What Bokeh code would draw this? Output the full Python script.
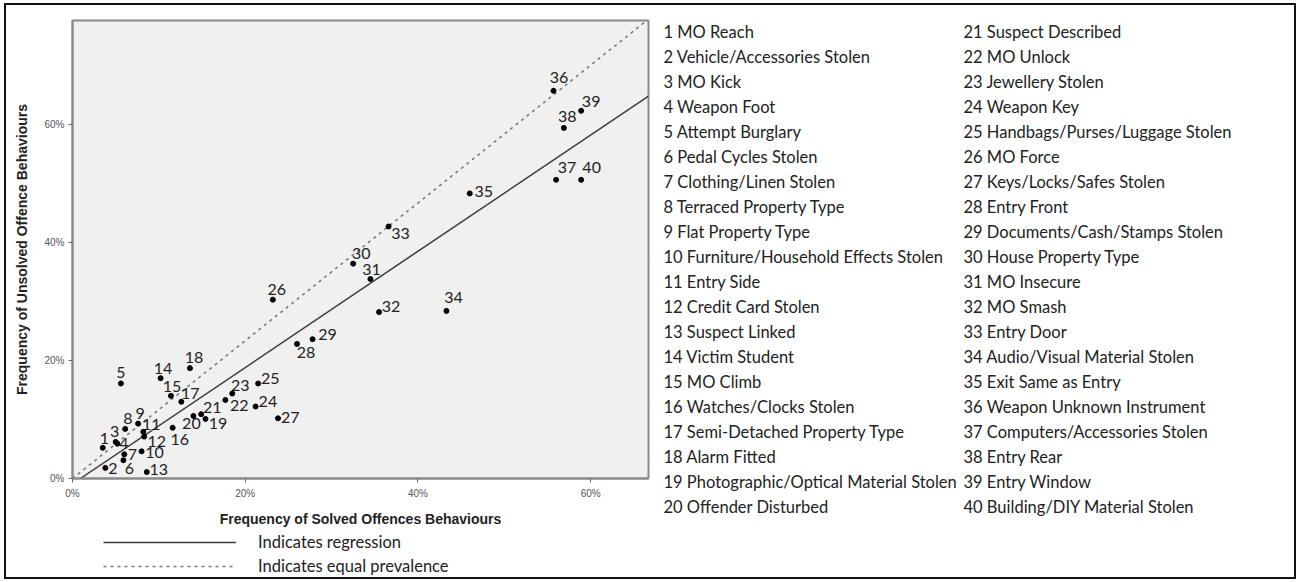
from bokeh.plotting import figure
from bokeh.models import (ColumnDataSource, FixedTicker, Range1d, Legend, LegendItem)
from bokeh.layouts import row, column
from bokeh.core.properties import value
from bokeh.embed import file_html
from bokeh.resources import INLINE

# ---------------- data (percent) ----------------
ids = list(range(1, 41))
solved = [3.5, 3.8, 5.0, 5.2, 5.6, 5.9, 6.0, 6.1, 7.6, 8.0,
          8.2, 8.3, 8.6, 10.2, 11.4, 11.6, 12.6, 13.6, 15.4, 14.0,
          14.9, 17.7, 18.5, 21.2, 21.5, 23.2, 23.8, 26.0, 27.8, 32.5,
          34.5, 35.5, 36.6, 43.3, 46.0, 55.7, 56.0, 56.9, 58.9, 58.9]
unsolved = [5.2, 1.8, 6.2, 5.9, 16.1, 3.1, 4.1, 8.4, 9.3, 4.6,
            7.9, 7.1, 1.1, 17.0, 14.0, 8.6, 13.0, 18.7, 10.1, 10.6,
            10.9, 13.3, 14.4, 12.2, 16.1, 30.3, 10.2, 22.8, 23.6, 36.4,
            33.8, 28.2, 42.7, 28.4, 48.3, 65.7, 50.6, 59.4, 62.3, 50.6]
behaviours = ["MO Reach", "Vehicle/Accessories Stolen", "MO Kick", "Weapon Foot",
              "Attempt Burglary", "Pedal Cycles Stolen", "Clothing/Linen Stolen",
              "Terraced Property Type", "Flat Property Type",
              "Furniture/Household Effects Stolen", "Entry Side", "Credit Card Stolen",
              "Suspect Linked", "Victim Student", "MO Climb", "Watches/Clocks Stolen",
              "Semi-Detached Property Type", "Alarm Fitted",
              "Photographic/Optical Material Stolen", "Offender Disturbed",
              "Suspect Described", "MO Unlock", "Jewellery Stolen", "Weapon Key",
              "Handbags/Purses/Luggage Stolen", "MO Force", "Keys/Locks/Safes Stolen",
              "Entry Front", "Documents/Cash/Stamps Stolen", "House Property Type",
              "MO Insecure", "MO Smash", "Entry Door", "Audio/Visual Material Stolen",
              "Exit Same as Entry", "Weapon Unknown Instrument",
              "Computers/Accessories Stolen", "Entry Rear", "Entry Window",
              "Building/DIY Material Stolen"]
x_ticks = [0, 20, 40, 60]
x_tick_labels = ["0%", "20%", "40%", "60%"]
y_ticks = [0, 20, 40, 60]
y_tick_labels = ["0%", "20%", "40%", "60%"]
x_max = 66.7
y_max = 77.6
reg_slope = 0.985
reg_intercept = -0.9
equal_line_slope = 1.167

# ---------------- layout helpers (label offsets, screen px) ----------------
lab_dx = [1.7, 7.6, -1, 6.5, 0, 6, 8, 2.7, 2, 13,
          8, 12.5, 12, 2.5, 1, 7, 9, 4, 12.5, -2,
          11, 14, 8, 12.3, 12, 4, 12.3, 9, 15, 8,
          1, 12, 12, 7, 14, 5.5, 11, 3.4, 10, 10.5]
lab_dy = [-9, 1, -10, 0, -11, 8, 0, -10, -10.5, 1,
          -7, 4.5, -3, -10, -9.5, 12, -8.5, -11, 4.5, 8,
          -6.5, 5.5, -8.5, -5, -4.5, -10, -1, 9, -5, -10,
          -10, -5.5, 7.5, -13, -2, -13, -12, -11, -9, -12]

src = ColumnDataSource(dict(x=solved, y=unsolved, t=[str(i) for i in ids],
                            dx=lab_dx, dy=lab_dy))

FONT = "Lato"
# page geometry: outer frame (CSS border) whose inner box starts at (OX, OY)
OX, OY = 6, 5
INNER_W, INNER_H = 1288, 572
SPLIT_X = 656            # page x where the list panel starts
LEG_TOP = 530            # page y where the legend strip starts
FL, FR, FT, FB = 72, 648, 20, 478   # chart frame edges (page px)
LEFT_W = SPLIT_X - OX
MAIN_H = LEG_TOP - OY
REG_COLOR, REG_W = "#3c3c3c", 1.5
EQ_COLOR, EQ_W, EQ_DASH = "#7a7a7a", 1.6, "3 4"

# ---------------- main scatter chart ----------------
p = figure(width=LEFT_W, height=MAIN_H,
           x_range=Range1d(0, x_max), y_range=Range1d(0, y_max),
           output_backend="svg", toolbar_location=None,
           min_border_left=FL - OX, min_border_right=SPLIT_X - FR,
           min_border_top=FT - OY, min_border_bottom=LEG_TOP - FB)
p.background_fill_color = "#f0f0f0"
p.border_fill_color = "white"
p.outline_line_color = "#8a8a8a"
p.outline_line_width = 2
p.grid.visible = False

x0 = -reg_intercept / reg_slope
p.line([x0, x_max], [0, reg_intercept + reg_slope * x_max],
       line_color=REG_COLOR, line_width=REG_W)
p.line([0, x_max], [0, equal_line_slope * x_max],
       line_color=EQ_COLOR, line_width=EQ_W, line_dash=EQ_DASH)

p.text(x="x", y="y", text="t", x_offset="dx", y_offset="dy", source=src,
       text_align="center", text_baseline="middle", text_font=value(FONT),
       text_font_size="16px", text_color="#222222")
p.scatter(x="x", y="y", source=src, size=5, color="black")

for ax, ticks, labs in ((p.xaxis, x_ticks, x_tick_labels), (p.yaxis, y_ticks, y_tick_labels)):
    ax.ticker = FixedTicker(ticks=ticks)
    ax.major_label_overrides = {t: l for t, l in zip(ticks, labs)}
    ax.minor_tick_line_color = None
    ax.major_tick_in = 0
    ax.major_tick_out = 4
    ax.major_tick_line_color = "#666666"
    ax.axis_line_color = "#8a8a8a"
    ax.axis_line_width = 2
    ax.major_label_text_font = "Liberation Sans"
    ax.major_label_text_font_size = "10px"
    ax.major_label_text_color = "#555555"
    ax.axis_label_text_font = "Liberation Sans"
    ax.axis_label_text_font_style = "bold"
    ax.axis_label_text_font_size = "14px"
    ax.axis_label_text_color = "#222222"

p.xaxis.axis_label = "Frequency of Solved Offences Behaviours"
p.yaxis.axis_label = "Frequency of Unsolved Offence Behaviours"
p.xaxis.major_label_standoff = 5
p.xaxis.axis_label_standoff = 9
p.yaxis.major_label_standoff = 4
p.yaxis.axis_label_standoff = 11

# ---------------- legend strip under the chart (frame aligned with the chart's) ----------------
LEG_H = OY + INNER_H - LEG_TOP
legfig = figure(width=LEFT_W, height=LEG_H, x_range=Range1d(FL, FR),
                y_range=Range1d(LEG_H, 0), output_backend="svg",
                toolbar_location=None, min_border=0,
                x_axis_type=None, y_axis_type=None)
legfig.grid.visible = False
legfig.outline_line_color = None
# sample renderers for the legend keys (kept outside the visible strip)
r_reg = legfig.line(x=[FL, FL + 1], y=[-100, -100], line_color=REG_COLOR, line_width=REG_W)
r_eq = legfig.line(x=[FL, FL + 1], y=[-100, -100], line_color=EQ_COLOR, line_width=EQ_W,
                   line_dash=EQ_DASH)
legend = Legend(items=[LegendItem(label="Indicates regression", renderers=[r_reg]),
                       LegendItem(label="Indicates equal prevalence", renderers=[r_eq])],
                location=(103 - FL, LEG_H - 2 - 44), orientation="vertical")
legend.glyph_width = 133
legend.glyph_height = 20
legend.label_height = 20
legend.label_standoff = 22
legend.spacing = 4
legend.padding = 0
legend.margin = 0
legend.border_line_color = None
legend.background_fill_alpha = 0
legend.label_text_font = FONT
legend.label_text_font_size = "16.5px"
legend.label_text_color = "#222222"
legfig.add_layout(legend)

# ---------------- list of behaviours (two columns) ----------------
LIST_W = OX + INNER_W - SPLIT_X
n_rows = 20
row_y = [31 - OY + 25.0 * (i % n_rows) for i in range(40)]
col_x = [663 - SPLIT_X if i < n_rows else 963 - SPLIT_X for i in range(40)]
list_src = ColumnDataSource(dict(x=col_x, y=row_y,
                                 t=[f"{i} {b}" for i, b in zip(ids, behaviours)]))
lst = figure(width=LIST_W, height=INNER_H, x_range=Range1d(0, LIST_W),
             y_range=Range1d(INNER_H, 0),
             output_backend="svg", toolbar_location=None, min_border=0,
             x_axis_type=None, y_axis_type=None)
lst.grid.visible = False
lst.outline_line_color = None
lst.text(x="x", y="y", text="t", source=list_src, text_align="left",
         text_baseline="middle", text_font=value(FONT), text_font_size="16.5px",
         text_color="#222222")

layout = row(column(p, legfig, spacing=0), lst, spacing=0,
             styles={"border": "2px solid #111111", "margin": "3px 0 0 4px"})
open("out.html", "w").write(file_html(layout, INLINE))
